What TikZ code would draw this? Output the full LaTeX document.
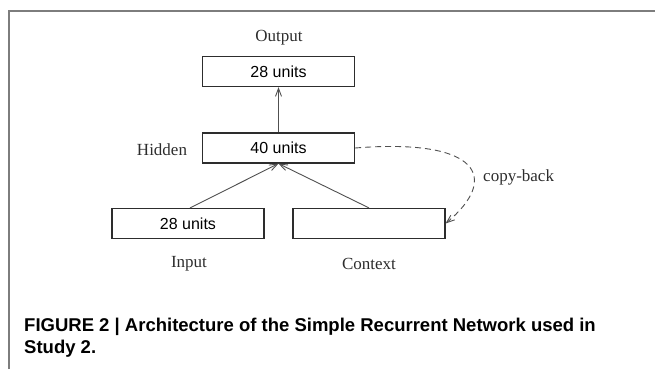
\documentclass[tikz,border=0pt]{standalone}
\usepackage{fontspec}
\setmainfont{Liberation Serif}
\newfontfamily\unitfont{Liberation Sans}
\newfontfamily\capfont{Liberation Sans}
\definecolor{line1}{RGB}{45, 45, 45}
\definecolor{arrow1}{RGB}{80, 80, 80}
\definecolor{frame1}{RGB}{125, 125, 125}
\usetikzlibrary{arrows.meta, positioning}

\tikzset{
  unitbox/.style={draw=line1, line width=1.2pt, minimum width=152pt, minimum height=30pt, inner sep=0pt, font=\unitfont\fontsize{16}{18}\selectfont},
  layer/.style={inner sep=0pt, text=line1, font=\fontsize{17}{19}\selectfont},
  feed/.style={draw=arrow1, line width=0.9pt, -{Straight Barb[length=8pt, width=6pt]}},
  caption/.style={inner sep=0pt, anchor=base west, font=\capfont\bfseries\fontsize{18.5}{22}\selectfont}
}

\begin{document}
\begin{tikzpicture}[x=1pt, y=-1pt]
  \useasboundingbox (0,0) rectangle (655,369);
  % frame
  \draw[frame1, line width=1.5pt] (9,369) -- (9,11) -- (655,11);

  % units
  \node[unitbox] (outbox) at (278.5,71.5) {28 units};
  \node[unitbox] (hidbox) at (278.5,148) {40 units};
  \node[unitbox] (inbox) at (188,223.5) {28 units};
  \node[unitbox] (ctxbox) at (369,223.5) {};

  % layer names
  \node[layer] (outlbl) at (279,38) {Output};
  \node[layer] (hidlbl) at (162,150) {Hidden};
  \node[layer] (inlbl) at (189,264) {Input};
  \node[layer] (ctxlbl) at (369,264) {Context};
  \node[layer, anchor=west] (copylbl) at (483,177) {copy-back};

  % connections
  \draw[feed] ([xshift=2pt]inbox.north) -- (hidbox.south);
  \draw[feed] (ctxbox.north) -- (hidbox.south);
  \draw[feed] (hidbox.north) -- (outbox.south);
  \draw[feed, dash pattern=on 6pt off 4pt] (hidbox.east) .. controls (480,138) and (500,178) .. (ctxbox.east);

  % caption
  \node[caption] (cap1) at (24,331) {FIGURE 2 | Architecture of the Simple Recurrent Network used in};
  \node[caption] (cap2) at ([yshift=-22pt]cap1.base west) {Study 2.};
\end{tikzpicture}
\end{document}
